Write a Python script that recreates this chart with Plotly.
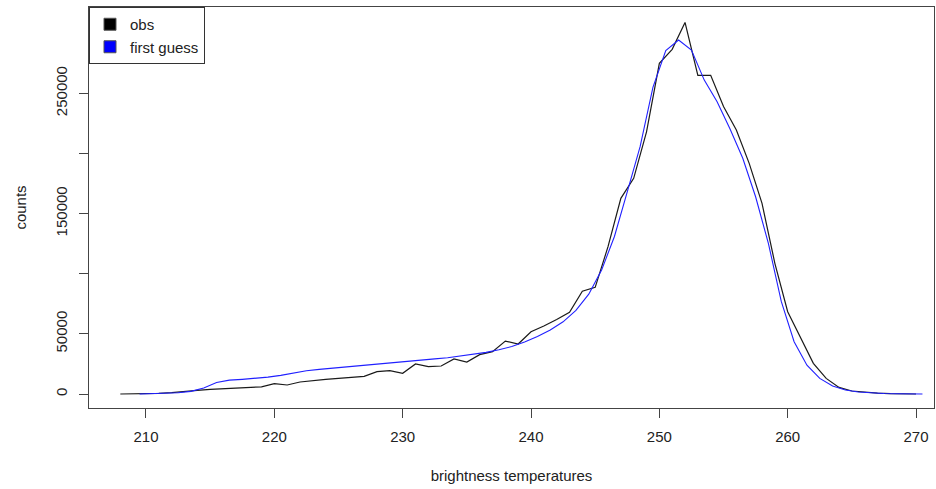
import plotly.graph_objects as go

# observed counts at integer brightness temperatures
obs_x = list(range(208, 271))
obs_counts = [0, 100, 200, 600, 1200, 2400, 3000, 3900, 4400, 5000,
              5500, 6000, 8600, 7500, 10000, 11400, 12200, 13000, 13900, 14700,
              18600, 19400, 17200, 25000, 22700, 23300, 29100, 26600, 32700, 35200,
              44000, 41600, 51800, 56500, 62000, 67900, 85400, 88700, 122500, 162700,
              179300, 218000, 275000, 286600, 309000, 265000, 265000, 239000, 219500, 191800,
              158500, 108700, 68400, 46300, 25500, 13000, 5500, 2500, 1400, 700,
              300, 100, 0]

# first guess counts at half-integer brightness temperatures
fg_x = [209.5 + i for i in range(62)]
fg_counts = [0, 200, 400, 1000, 2200, 5000, 9500, 11500, 12200, 13000,
             14000, 15500, 17500, 19300, 20500, 21400, 22400, 23400, 24400, 25300,
             26100, 27100, 28200, 29200, 30200, 31500, 32800, 34600, 36800, 39500,
             43200, 47800, 53300, 60000, 69500, 83000, 103000, 131000, 168000, 205600,
             255000, 285500, 294300, 286000, 261000, 243000, 220500, 196000, 164000, 125000,
             77000, 43500, 24000, 13000, 6600, 3300, 1700, 900, 400, 200,
             100, 0]

x_ticks = [210, 220, 230, 240, 250, 260, 270]
y_ticks = [0, 50000, 100000, 150000, 200000, 250000]
y_tick_labels = ["0", "50000", "", "150000", "", "250000"]

FONT = "Liberation Sans, Arial, sans-serif"
TXT = "#222222"

fig = go.Figure()
fig.add_trace(go.Scatter(x=obs_x, y=obs_counts, mode="lines",
                         line=dict(color="#1a1a1a", width=1.2), showlegend=False,
                         name="obs"))
fig.add_trace(go.Scatter(x=fg_x, y=fg_counts, mode="lines",
                         line=dict(color="#2020ff", width=1.1), showlegend=False,
                         name="first guess"))
# legend entries drawn as filled squares (like R's fill legend)
fig.add_trace(go.Scatter(x=[None], y=[None], mode="markers", name="obs",
                         marker=dict(symbol="square", size=12, color="black",
                                     line=dict(color="#555", width=1))))
fig.add_trace(go.Scatter(x=[None], y=[None], mode="markers", name="first guess",
                         marker=dict(symbol="square", size=12, color="blue",
                                     line=dict(color="#555", width=1))))

fig.update_layout(
    width=936, height=489,
    margin=dict(l=89, r=2, t=7, b=81),
    paper_bgcolor="white", plot_bgcolor="white",
    font=dict(family=FONT, size=15, color=TXT),
    legend=dict(x=0, y=1, xanchor="left", yanchor="top",
                bordercolor="#333", borderwidth=1, bgcolor="white",
                font=dict(size=15, color=TXT), tracegroupgap=0,
                itemwidth=30),
    xaxis=dict(range=[205.56, 271.4], tickvals=x_ticks,
               showgrid=False, zeroline=False, showline=True, mirror=True,
               linecolor="#444", linewidth=1, ticks="outside", ticklen=9,
               tickcolor="#444", tickfont=dict(size=15, color=TXT),
               ticklabelstandoff=6,
               title=dict(text="brightness temperatures", standoff=26,
                          font=dict(size=15, color=TXT))),
    yaxis=dict(range=[-11640, 321800], tickvals=y_ticks, ticktext=y_tick_labels,
               showgrid=False, zeroline=False, showline=True, mirror=True,
               linecolor="#444", linewidth=1, ticks="outside", ticklen=9,
               tickcolor="#444", tickangle=-90, tickfont=dict(size=15, color=TXT),
               ticklabelstandoff=6,
               title=dict(text="counts", standoff=22,
                          font=dict(size=15, color=TXT))),
)

fig.write_html("out.html", config={"displayModeBar": False},
               post_script="document.body.style.margin='0';document.body.style.overflow='hidden';")
